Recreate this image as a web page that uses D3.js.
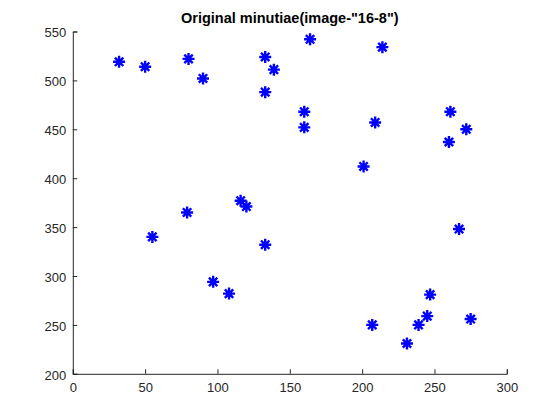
<!DOCTYPE html>
<html lang="en">
<head>
    <meta charset="UTF-8">
    <title>Original minutiae</title>
    <script src="https://d3js.org/d3.v7.min.js"></script>
    <style>
        body { margin: 0; background: #fff; }
        text { font-family: "Liberation Sans", Arial, sans-serif; }
    </style>
</head>
<body>
    <svg width="560" height="420"></svg>
    <script>
        // minutiae coordinates
        var xs = [32, 50, 80, 90, 133, 139, 133, 164, 214, 160, 160, 209, 261, 272, 260,
                  201, 116, 120, 79, 55, 133, 267,
                  97, 108, 207, 231, 239, 245, 247, 275];
        var ys = [519, 514, 522, 502, 524, 511, 488, 542, 534, 468, 452, 457, 468, 450, 437,
                  412, 377, 371, 365, 340, 332, 348,
                  294, 282, 250, 231, 250, 259, 281, 256];
        var xTicks = [0, 50, 100, 150, 200, 250, 300];
        var yTicks = [200, 250, 300, 350, 400, 450, 500, 550];

        // plot box (window.top is read-only, so no "top" here)
        var pLeft = 72.8, pRight = 506.8, pTop = 31.5, pBottom = 373.8;
        var axisColor = '#262626';

        var svg = d3.select('svg');
        var x = d3.scaleLinear().domain([0, 300]).range([pLeft, pRight]);
        var y = d3.scaleLinear().domain([200, 550]).range([pBottom, pTop]);

        var xAxis = svg.append('g')
            .attr('transform', 'translate(0,' + pBottom + ')')
            .call(d3.axisBottom(x).tickValues(xTicks).tickSize(-4.5).tickPadding(9));
        var yAxis = svg.append('g')
            .attr('transform', 'translate(' + pLeft + ',0)')
            .call(d3.axisLeft(y).tickValues(yTicks).tickSize(-4.5).tickPadding(6.5));

        [xAxis, yAxis].forEach(function (g) {
            g.select('.domain').attr('stroke', axisColor).attr('stroke-width', 1);
            g.selectAll('.tick line').attr('stroke', axisColor);
            g.selectAll('.tick text')
                .attr('fill', axisColor)
                .style('font-size', '13px')
                .style('font-family', '"Liberation Sans", Arial, sans-serif');
        });
        yAxis.selectAll('.tick text').attr('dy', '0.42em');

        // asterisk marker: plus + cross
        var r = 6, d = r * 0.7;
        var star = 'M' + (-r) + ',0L' + r + ',0M0,' + (-r) + 'L0,' + r +
                   'M' + (-d) + ',' + (-d) + 'L' + d + ',' + d +
                   'M' + (-d) + ',' + d + 'L' + d + ',' + (-d);

        svg.append('g').selectAll('path').data(xs)
            .enter().append('path')
            .attr('d', star)
            .attr('transform', (v, i) => 'translate(' + x(v) + ',' + y(ys[i]) + ')')
            .attr('fill', 'none')
            .attr('stroke', '#0000ff')
            .attr('stroke-width', 2.4);

        svg.append('text')
            .attr('x', (pLeft + pRight) / 2)
            .attr('y', 23)
            .attr('text-anchor', 'middle')
            .style('font-size', '14.5px')
            .style('font-weight', 'bold')
            .attr('fill', '#000')
            .text('Original minutiae(image-"16-8")');
    </script>
</body>
</html>
